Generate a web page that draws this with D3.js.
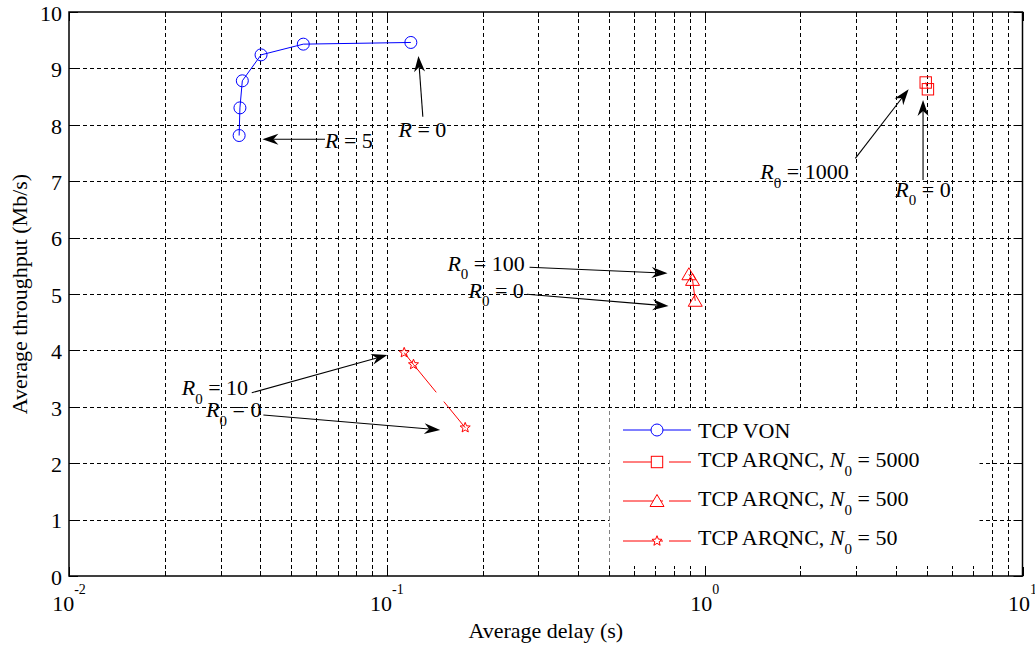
<!DOCTYPE html>
<html>
<head>
<meta charset="utf-8">
<script src="https://cdn.jsdelivr.net/npm/d3@7"></script>
<style>
  body { margin: 0; background: #fff; }
  svg { display: block; }
  text { font-family: "Liberation Serif", "Times New Roman", serif; fill: #000; }
</style>
</head>
<body>
<svg id="chart" width="1035" height="647"></svg>
<script>
// ---- data ----------------------------------------------------------------
// TCP VON: delay (s) vs throughput (Mb/s)
const vonDelay = [0.0343, 0.0345, 0.0351, 0.0402, 0.0546, 0.119];
const vonThroughput = [7.81, 8.30, 8.78, 9.24, 9.43, 9.46];
// TCP ARQNC, N0 = 5000
const arq5000Delay = [4.96, 5.04];
const arq5000Throughput = [8.75, 8.63];
// TCP ARQNC, N0 = 500
const arq500Delay = [0.892, 0.916, 0.934];
const arq500Throughput = [5.35, 5.25, 4.88];
// TCP ARQNC, N0 = 50
const arq50Delay = [0.1134, 0.1213, 0.1764];
const arq50Throughput = [3.96, 3.75, 2.63];

const yTicks = [0, 1, 2, 3, 4, 5, 6, 7, 8, 9, 10];
const xDecades = [0.01, 0.1, 1, 10];
const xTickExponents = ["-2", "-1", "0", "1"];

const legendNames = ["TCP VON", "TCP ARQNC, ", "TCP ARQNC, ", "TCP ARQNC, "];
const legendN0 = [null, "5000", "500", "50"];

// annotation arrows: [tailDelay, tailThr, tipDelay, tipThr]
const arrows = [
  [0.0639, 7.743, 0.0406, 7.743],   // R = 5
  [0.1298, 8.144, 0.1257, 9.22],    // R = 0
  [2.979, 7.406, 4.383, 8.629],     // R0 = 1000
  [4.865, 7.021, 4.865, 8.44],      // R0 = 0 (N0 = 5000)
  [0.2812, 5.473, 0.7642, 5.367],   // R0 = 100
  [0.2759, 4.995, 0.7697, 4.787],   // R0 = 0 (N0 = 500)
  [0.03759, 3.25, 0.1004, 3.918],   // R0 = 10
  [0.04088, 2.855, 0.1472, 2.589]   // R0 = 0 (N0 = 50)
];
// annotation labels: [delay, throughput, subscripted?, value]
const labels = [
  [0.0639, 7.583, false, "5"],
  [0.1088, 7.789, false, "0"],
  [1.496, 7.034, true, "1000"],
  [3.981, 6.725, true, "0"],
  [0.1551, 5.413, true, "100"],
  [0.1806, 4.934, true, "0"],
  [0.02263, 3.209, true, "10"],
  [0.02699, 2.814, true, "0"]
];

// ---- layout ----------------------------------------------------------------
const svg = d3.select("#chart");
const L = 69, R = 1022.5, T = 12, B = 576;
const x = d3.scaleLog().domain([0.01, 10]).range([L, R]);
const y = d3.scaleLinear().domain([0, 10]).range([B, T]);

const BLUE = "#0000ff", RED = "#ff0000";
const FS = 22;

// ---- grid ----------------------------------------------------------------
const grid = svg.append("g").attr("stroke", "#000").attr("stroke-width", 1)
  .attr("stroke-dasharray", "4,3").attr("fill", "none");
const xGridVals = [];
for (let d = 0; d < 3; d++) {
  for (let k = 1; k <= 9; k++) {
    const v = xDecades[d] * k;
    if (v > 0.01) xGridVals.push(v);
  }
}
grid.selectAll("line.xg").data(xGridVals).join("line")
  .attr("x1", d => Math.round(x(d)) + 0.5).attr("x2", d => Math.round(x(d)) + 0.5)
  .attr("y1", T).attr("y2", B);
grid.selectAll("line.yg").data(yTicks.slice(1, -1)).join("line")
  .attr("y1", d => Math.round(y(d)) + 0.5).attr("y2", d => Math.round(y(d)) + 0.5)
  .attr("x1", L).attr("x2", R);

// ---- ticks (inside, all four sides) ----------------------------------------
const ticks = svg.append("g").attr("stroke", "#000").attr("stroke-width", 1);
const major = 9, minor = 5;
yTicks.forEach(v => {
  const yy = Math.round(y(v)) + 0.5;
  ticks.append("line").attr("x1", L).attr("x2", L + major).attr("y1", yy).attr("y2", yy);
  ticks.append("line").attr("x1", R - major).attr("x2", R).attr("y1", yy).attr("y2", yy);
});
xGridVals.concat([0.01, 10]).forEach(v => {
  const xx = Math.round(x(v)) + 0.5;
  const isMajor = xDecades.includes(+v.toPrecision(6));
  const len = isMajor ? major : minor;
  ticks.append("line").attr("x1", xx).attr("x2", xx).attr("y1", B).attr("y2", B - len);
  ticks.append("line").attr("x1", xx).attr("x2", xx).attr("y1", T).attr("y2", T + len);
});

// ---- series ----------------------------------------------------------------
const line = d3.line().x(d => x(d[0])).y(d => y(d[1]));
const zip = (a, b) => a.map((v, i) => [v, b[i]]);

const starPath = (() => {
  const pts = [];
  for (let i = 0; i < 10; i++) {
    const r = i % 2 === 0 ? 5.3 : 2.3;
    const a = -Math.PI / 2 + i * Math.PI / 5;
    pts.push([r * Math.cos(a), r * Math.sin(a)]);
  }
  return "M" + pts.map(p => p.join(",")).join("L") + "Z";
})();
const markers = {
  circle: g => g.append("circle").attr("r", 6),
  square: g => g.append("rect").attr("x", -5.7).attr("y", -5.7).attr("width", 11.4).attr("height", 11.4),
  triangle: g => g.append("path").attr("d", "M0,-6.5L7,5.5L-7,5.5Z"),
  star: g => g.append("path").attr("d", starPath)
};

const series = [
  { data: zip(vonDelay, vonThroughput), color: BLUE, marker: "circle", dash: null },
  { data: zip(arq5000Delay, arq5000Throughput), color: RED, marker: "square", dash: "51,12" },
  { data: zip(arq500Delay, arq500Throughput), color: RED, marker: "triangle", dash: "51,12" },
  { data: zip(arq50Delay, arq50Throughput), color: RED, marker: "star", dash: "51,12" }
];

const plot = svg.append("g");
series.forEach(s => {
  plot.append("path").attr("d", line(s.data)).attr("fill", "none")
    .attr("stroke", s.color).attr("stroke-width", 1)
    .attr("stroke-dasharray", s.dash);
  s.data.forEach(p => {
    const g = plot.append("g").attr("transform", `translate(${x(p[0])},${y(p[1])})`)
      .attr("fill", "none").attr("stroke", s.color).attr("stroke-width", 1);
    markers[s.marker](g);
  });
});

// ---- axes box ----------------------------------------------------------------
svg.append("rect").attr("x", L).attr("y", T).attr("width", R - L).attr("height", B - T)
  .attr("fill", "none").attr("stroke", "#000").attr("stroke-width", 1.5);

// ---- tick labels ----------------------------------------------------------------
svg.append("g").selectAll("text").data(yTicks).join("text")
  .attr("x", L - 7).attr("y", d => y(d) + 8.7)
  .attr("text-anchor", "end").attr("font-size", FS).text(d => d);

xDecades.forEach((v, i) => {
  const t = svg.append("text").attr("x", x(v)).attr("y", B + 34.7)
    .attr("text-anchor", "middle").attr("font-size", FS);
  t.append("tspan").text("10");
  t.append("tspan").attr("font-size", 14).attr("dy", -17).text(xTickExponents[i]);
});

// ---- axis titles ----------------------------------------------------------------
svg.append("text").attr("x", (L + R) / 2).attr("y", 638)
  .attr("text-anchor", "middle").attr("font-size", FS).text("Average delay (s)");
svg.append("text").attr("transform", `translate(27,${(T + B) / 2}) rotate(-90)`)
  .attr("text-anchor", "middle").attr("font-size", FS).text("Average throughput (Mb/s)");

// ---- annotations ----------------------------------------------------------------
const ann = svg.append("g");
arrows.forEach(a => {
  const x1 = x(a[0]), y1 = y(a[1]), x2 = x(a[2]), y2 = y(a[3]);
  const ang = Math.atan2(y2 - y1, x2 - x1);
  const HL = 16, HW = 5.5, NOTCH = 11;
  const ca = Math.cos(ang), sa = Math.sin(ang);
  const pt = (u, v) => [x2 - u * ca - v * (-sa), y2 - u * sa - v * ca];
  const bl = pt(HL, HW), br = pt(HL, -HW), nt = pt(NOTCH, 0);
  ann.append("line").attr("x1", x1).attr("y1", y1).attr("x2", nt[0]).attr("y2", nt[1])
    .attr("stroke", "#000").attr("stroke-width", 1.1);
  ann.append("path").attr("d", `M${x2},${y2}L${bl}L${nt}L${br}Z`).attr("fill", "#000");
});
labels.forEach(l => {
  const t = ann.append("text").attr("x", x(l[0])).attr("y", y(l[1])).attr("font-size", FS);
  t.append("tspan").attr("font-style", "italic").text("R");
  if (l[2]) {
    t.append("tspan").attr("font-size", 15).attr("dy", 8.5).text("0");
    t.append("tspan").attr("dy", -8.5).text("\u00a0=\u00a0" + l[3]);
  } else {
    t.append("tspan").text("\u00a0=\u00a0" + l[3]);
  }
});

// ---- legend ----------------------------------------------------------------
const leg = svg.append("g");
leg.append("rect").attr("x", 609.5).attr("y", 411).attr("width", 370).attr("height", 155)
  .attr("fill", "#fff");
const rowLine = [430, 462, 501, 541];
const rowText = [438.3, 467.3, 506, 545];
series.forEach((s, i) => {
  const g = leg.append("g");
  if (s.dash) {
    g.append("line").attr("x1", 623).attr("x2", 663).attr("y1", rowLine[i]).attr("y2", rowLine[i])
      .attr("stroke", s.color);
    g.append("line").attr("x1", 669).attr("x2", 691).attr("y1", rowLine[i]).attr("y2", rowLine[i])
      .attr("stroke", s.color);
  } else {
    g.append("line").attr("x1", 623).attr("x2", 691).attr("y1", rowLine[i]).attr("y2", rowLine[i])
      .attr("stroke", s.color);
  }
  const m = g.append("g").attr("transform", `translate(657,${rowLine[i]})`)
    .attr("fill", "#fff").attr("stroke", s.color);
  markers[s.marker](m);
  const t = g.append("text").attr("x", 698).attr("y", rowText[i]).attr("font-size", FS);
  t.append("tspan").text(legendNames[i]);
  if (legendN0[i]) {
    t.append("tspan").attr("font-style", "italic").text("N");
    t.append("tspan").attr("font-size", 15).attr("dy", 8.5).text("0");
    t.append("tspan").attr("dy", -8.5).text("\u00a0=\u00a0" + legendN0[i]);
  }
});
</script>
</body>
</html>
